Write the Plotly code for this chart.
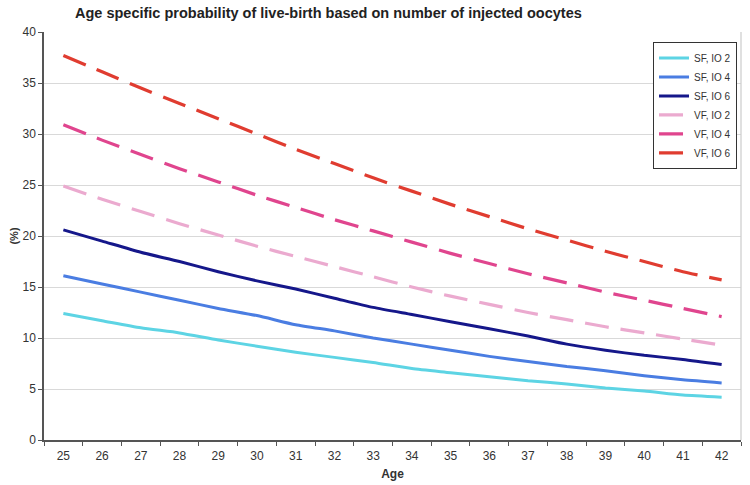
import plotly.graph_objects as go

ages = [str(a) for a in range(25, 43)]

sf_io2 = [12.4, 11.7, 11.0, 10.5, 9.8, 9.2, 8.6, 8.1, 7.6, 7.0, 6.6, 6.2, 5.8, 5.5, 5.1, 4.8, 4.4, 4.2]
sf_io4 = [16.1, 15.3, 14.5, 13.7, 12.9, 12.2, 11.3, 10.7, 10.0, 9.4, 8.8, 8.2, 7.7, 7.2, 6.8, 6.3, 5.9, 5.6]
sf_io6 = [20.6, 19.5, 18.4, 17.5, 16.5, 15.6, 14.8, 13.9, 13.0, 12.3, 11.6, 10.9, 10.2, 9.4, 8.8, 8.3, 7.9, 7.4]
vf_io2 = [24.9, 23.6, 22.4, 21.2, 20.1, 19.0, 18.0, 17.0, 16.0, 15.0, 14.1, 13.3, 12.5, 11.8, 11.1, 10.5, 9.9, 9.3]
vf_io4 = [30.9, 29.4, 28.0, 26.6, 25.3, 24.0, 22.8, 21.6, 20.5, 19.4, 18.3, 17.3, 16.3, 15.4, 14.5, 13.7, 12.9, 12.1]
vf_io6 = [37.7, 36.1, 34.5, 33.0, 31.5, 30.0, 28.5, 27.1, 25.7, 24.4, 23.1, 21.9, 20.7, 19.6, 18.5, 17.5, 16.5, 15.7]

series_names = ["SF, IO 2", "SF, IO 4", "SF, IO 6", "VF, IO 2", "VF, IO 4", "VF, IO 6"]
series_vals = [sf_io2, sf_io4, sf_io6, vf_io2, vf_io4, vf_io6]
colors = ["#5DD4E4", "#4A7DE2", "#15178A", "#EBAACF", "#E0458E", "#E03C30"]
dashes = ["solid", "solid", "solid", "24px,12px", "24px,12px", "24px,12px"]

fig = go.Figure()
for name, vals, c, d in zip(series_names, series_vals, colors, dashes):
    fig.add_trace(go.Scatter(
        x=ages, y=vals, name=name, mode="lines",
        line=dict(color=c, width=3.2 if d != "solid" else 3, dash=d, shape="spline", smoothing=0.6),
    ))

fig.update_layout(
    width=750, height=485,
    margin=dict(l=44, r=9, t=32, b=45),
    plot_bgcolor="white", paper_bgcolor="white",
    font=dict(family="Liberation Sans, Arial, sans-serif", size=12, color="#333333"),
    title=dict(
        text="<b>Age specific probability of live-birth based on number of injected oocytes</b>",
        x=75 / 750, xanchor="left", y=1 - 13 / 485, yanchor="middle",
        font=dict(size=14.5, color="#222222"),
    ),
    xaxis=dict(
        type="category", tickson="boundaries", ticks="outside", ticklen=4,
        range=[-0.5, 17.5], ticklabelstandoff=4,
        tickcolor="#555555", showline=True, linecolor="#555555", linewidth=1.5,
        showgrid=False, zeroline=False, automargin=False,
        title=dict(text="<b>Age</b>", standoff=7, font=dict(size=12)),
        tickfont=dict(size=12),
    ),
    yaxis=dict(
        range=[0, 40], dtick=5, ticks="outside", ticklen=4, tickcolor="#555555",
        showline=True, linecolor="#555555", linewidth=1.5,
        showgrid=True, gridcolor="#D9D9D9", gridwidth=1.2, zeroline=False,
        automargin=False,
        title=dict(text="<b>(%)</b>", standoff=2, font=dict(size=11)),
        tickfont=dict(size=12),
    ),
    legend=dict(
        x=0.994, xanchor="right", y=0.975, yanchor="top",
        bordercolor="#333333", borderwidth=1.2, bgcolor="white",
        font=dict(size=10, color="#333333"), tracegroupgap=0,
        itemwidth=30,
    ),
    showlegend=True,
)
fig.add_shape(type="line", xref="paper", yref="paper", x0=1, x1=1, y0=0, y1=1,
              line=dict(color="#CCCCCC", width=1.2))

fig.write_html("out.html", config={"displayModeBar": False},
               post_script="document.body.style.margin='0';")
